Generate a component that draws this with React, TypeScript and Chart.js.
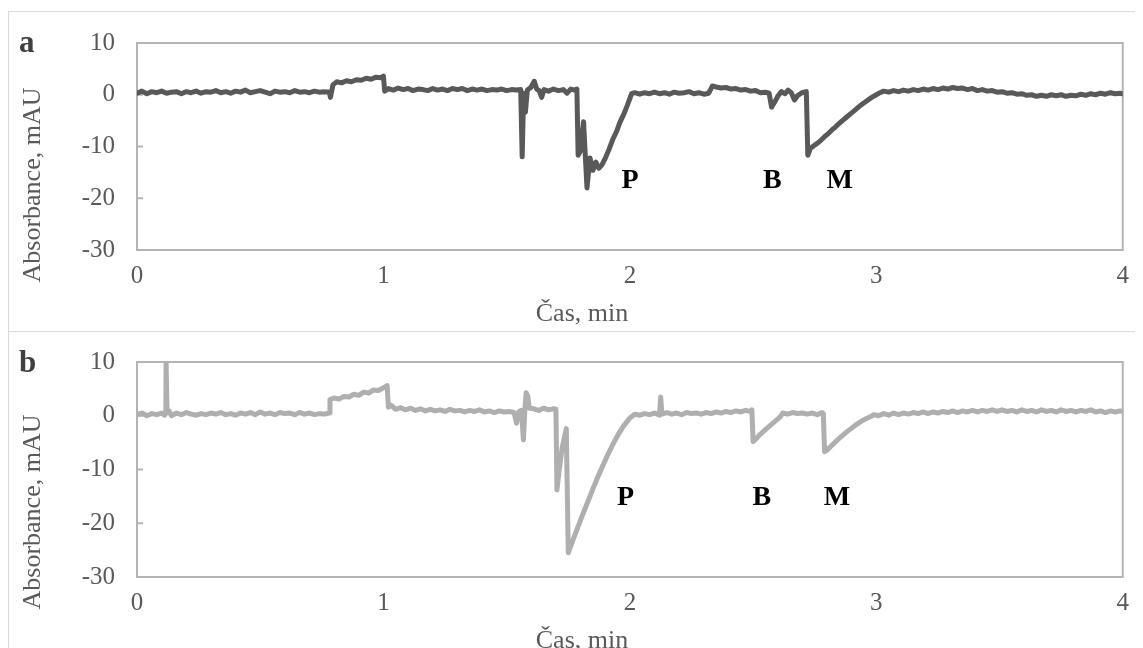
import { useEffect, useRef } from "react";
import { Chart, registerables } from "chart.js";

Chart.register(...registerables);

// ---------- data (time in min, absorbance in mAU) ----------
const traceA: [number, number][] = [
  [0.00,0.3],[0.02,0.7],[0.04,0.2],[0.06,0.6],[0.08,0.4],[0.10,0.7],[0.12,0.3],[0.14,0.5],[0.16,0.6],[0.18,0.2],
  [0.20,0.6],[0.22,0.4],[0.24,0.7],[0.26,0.3],[0.28,0.6],[0.30,0.5],[0.32,0.8],[0.34,0.4],[0.36,0.6],[0.38,0.3],
  [0.40,0.7],[0.42,0.5],[0.44,0.9],[0.46,0.4],[0.48,0.6],[0.50,0.8],[0.52,0.5],[0.54,0.2],[0.56,0.7],[0.58,0.5],
  [0.60,0.6],[0.62,0.4],[0.64,0.8],[0.66,0.5],[0.68,0.6],[0.70,0.4],[0.72,0.7],[0.74,0.5],[0.76,0.6],[0.78,0.5],
  [0.785,-0.5],[0.795,1.9],[0.81,2.5],[0.83,2.3],[0.85,2.7],[0.87,2.5],[0.89,2.9],[0.91,2.8],[0.93,3.2],[0.95,3.0],
  [0.97,3.4],[0.99,3.3],[1.00,3.6],[1.005,0.7],[1.02,1.2],[1.04,0.9],[1.06,1.3],[1.08,1.0],[1.10,1.2],[1.12,0.8],
  [1.14,1.1],[1.16,1.0],[1.18,0.8],[1.20,1.2],[1.22,0.9],[1.24,1.1],[1.26,0.8],[1.28,1.2],[1.30,1.0],[1.32,1.2],
  [1.34,0.8],[1.36,1.1],[1.38,0.9],[1.40,1.1],[1.42,0.8],[1.44,1.0],[1.46,0.9],[1.48,1.1],[1.50,0.8],[1.52,1.0],
  [1.54,0.9],[1.557,1.0],[1.563,-12.0],[1.569,0.3],[1.576,-3.4],[1.584,0.9],[1.598,1.4],[1.612,2.6],[1.622,1.1],[1.632,0.8],
  [1.642,-0.5],[1.652,1.0],[1.67,0.7],[1.69,1.1],[1.71,0.8],[1.73,1.0],[1.745,0.3],[1.76,1.1],[1.775,0.9],[1.785,1.1],
  [1.79,-11.7],[1.798,-11.0],[1.812,-5.2],[1.826,-18.0],[1.838,-12.2],[1.85,-14.6],[1.862,-13.0],[1.874,-14.2],[1.886,-13.6],[1.90,-12.3],
  [1.915,-10.6],[1.93,-8.7],[1.945,-7.2],[1.96,-5.3],[1.975,-3.8],[1.99,-2.0],[2.007,0.2],[2.02,0.4],[2.04,0.1],[2.06,0.4],
  [2.08,0.2],[2.10,0.5],[2.12,0.2],[2.14,0.4],[2.16,0.1],[2.18,0.5],[2.20,0.3],[2.22,0.4],[2.24,0.6],[2.26,0.2],
  [2.28,0.4],[2.30,0.1],[2.32,0.3],[2.335,1.7],[2.35,1.5],[2.37,1.3],[2.39,1.4],[2.41,1.1],[2.43,1.2],[2.45,0.9],
  [2.47,1.0],[2.49,0.7],[2.51,0.8],[2.53,0.4],[2.55,0.5],[2.565,0.3],[2.575,-2.4],[2.59,-1.2],[2.60,-0.3],[2.615,0.6],
  [2.63,0.2],[2.642,0.9],[2.655,0.4],[2.668,-1.0],[2.68,-0.2],[2.695,0.3],[2.706,0.5],[2.716,0.6],[2.722,-11.7],[2.732,-10.4],
  [2.745,-9.9],[2.76,-9.4],[2.775,-8.8],[2.79,-8.1],[2.805,-7.5],[2.82,-6.8],[2.835,-6.2],[2.85,-5.5],[2.865,-4.9],[2.88,-4.3],
  [2.895,-3.7],[2.91,-3.1],[2.925,-2.5],[2.94,-1.9],[2.955,-1.4],[2.97,-0.9],[2.985,-0.4],[3.00,0.0],[3.015,0.4],[3.03,0.7],
  [3.05,0.5],[3.07,0.8],[3.09,0.6],[3.11,0.9],[3.13,0.7],[3.15,1.0],[3.17,0.8],[3.19,1.1],[3.21,0.9],[3.23,1.2],
  [3.25,1.0],[3.27,1.3],[3.29,1.1],[3.31,1.4],[3.33,1.2],[3.35,1.3],[3.37,1.0],[3.39,1.2],[3.41,0.8],[3.43,1.0],
  [3.45,0.7],[3.47,0.8],[3.49,0.5],[3.51,0.6],[3.53,0.3],[3.55,0.4],[3.57,0.1],[3.59,0.2],[3.61,-0.1],[3.63,0.0],
  [3.65,-0.3],[3.67,-0.1],[3.69,-0.3],[3.71,0.0],[3.73,-0.2],[3.75,0.0],[3.77,-0.3],[3.79,-0.1],[3.81,-0.2],[3.83,0.1],
  [3.85,-0.1],[3.87,0.2],[3.89,0.0],[3.91,0.3],[3.93,0.1],[3.95,0.4],[3.97,0.2],[3.99,0.3],[4.00,0.2],
];

const traceB: [number, number][] = [
  [0.00,0.2],[0.02,0.5],[0.04,0.0],[0.06,0.4],[0.08,0.2],[0.10,0.5],[0.112,0.1],[0.117,0.4],[0.118,10.0],[0.121,10.0],
  [0.122,0.6],[0.13,0.9],[0.14,0.0],[0.16,0.5],[0.18,0.2],[0.20,0.6],[0.22,0.3],[0.24,0.1],[0.26,0.4],[0.28,0.2],
  [0.30,0.5],[0.32,0.3],[0.34,0.6],[0.36,0.2],[0.38,0.4],[0.40,0.1],[0.42,0.5],[0.44,0.3],[0.46,0.6],[0.48,0.2],
  [0.50,0.7],[0.52,0.3],[0.54,0.5],[0.56,0.2],[0.58,0.6],[0.60,0.4],[0.62,0.5],[0.64,0.2],[0.66,0.6],[0.68,0.3],
  [0.70,0.5],[0.72,0.2],[0.74,0.4],[0.76,0.3],[0.78,0.5],[0.783,3.0],[0.80,3.3],[0.82,3.1],[0.84,3.6],[0.86,3.5],
  [0.88,4.0],[0.90,3.8],[0.92,4.4],[0.94,4.2],[0.96,4.8],[0.98,4.7],[1.00,5.2],[1.015,5.6],[1.02,1.6],[1.03,2.0],
  [1.05,1.2],[1.07,1.5],[1.09,1.1],[1.11,1.4],[1.13,1.0],[1.15,1.3],[1.17,0.9],[1.19,1.2],[1.21,0.9],[1.23,1.1],
  [1.25,0.8],[1.27,1.2],[1.29,0.9],[1.31,1.0],[1.33,0.7],[1.35,1.0],[1.37,0.8],[1.39,1.1],[1.41,0.7],[1.43,0.9],
  [1.45,0.6],[1.47,0.9],[1.49,0.7],[1.51,0.8],[1.53,0.6],[1.54,-1.4],[1.55,0.8],[1.56,1.0],[1.568,-4.5],[1.574,1.2],
  [1.579,4.3],[1.586,3.6],[1.592,1.4],[1.61,1.3],[1.63,1.0],[1.65,1.4],[1.67,1.1],[1.69,1.3],[1.70,1.2],[1.704,-13.8],
  [1.712,-10.5],[1.725,-6.0],[1.742,-2.4],[1.750,-25.5],[1.77,-23.0],[1.79,-20.6],[1.81,-18.2],[1.83,-15.9],[1.85,-13.6],[1.87,-11.4],
  [1.89,-9.3],[1.91,-7.3],[1.93,-5.4],[1.95,-3.7],[1.97,-2.2],[1.99,-1.0],[2.00,-0.4],[2.02,0.3],[2.04,0.1],[2.06,0.4],
  [2.08,0.2],[2.10,0.5],[2.12,0.1],[2.125,3.5],[2.13,0.3],[2.15,0.6],[2.17,0.3],[2.19,0.5],[2.21,0.2],[2.23,0.6],
  [2.25,0.4],[2.27,0.5],[2.29,0.3],[2.31,0.6],[2.33,0.4],[2.35,0.7],[2.37,0.5],[2.39,0.8],[2.41,0.6],[2.43,0.9],
  [2.45,0.7],[2.47,1.0],[2.49,0.8],[2.495,1.1],[2.50,-4.8],[2.51,-4.4],[2.53,-3.4],[2.55,-2.6],[2.57,-1.8],[2.59,-1.0],
  [2.61,-0.2],[2.62,0.5],[2.64,0.3],[2.66,0.6],[2.68,0.4],[2.70,0.5],[2.72,0.3],[2.74,0.5],[2.76,0.2],[2.78,0.6],
  [2.785,0.4],[2.79,-6.7],[2.80,-6.4],[2.82,-5.5],[2.84,-4.6],[2.86,-3.8],[2.88,-3.0],[2.90,-2.3],[2.92,-1.6],[2.94,-1.0],
  [2.96,-0.5],[2.98,-0.1],[2.99,0.2],[3.01,0.0],[3.03,0.4],[3.05,0.1],[3.07,0.5],[3.09,0.2],[3.11,0.5],[3.13,0.3],
  [3.15,0.6],[3.17,0.4],[3.19,0.7],[3.21,0.4],[3.23,0.7],[3.25,0.5],[3.27,0.8],[3.29,0.6],[3.31,0.9],[3.33,0.6],
  [3.35,0.9],[3.37,0.7],[3.39,1.0],[3.41,0.7],[3.43,1.0],[3.45,0.8],[3.47,1.1],[3.49,0.8],[3.51,1.1],[3.53,0.8],
  [3.55,1.0],[3.57,0.7],[3.59,1.1],[3.61,0.8],[3.63,1.0],[3.65,0.7],[3.67,1.1],[3.69,0.8],[3.71,1.0],[3.73,0.7],
  [3.75,1.1],[3.77,0.8],[3.79,1.0],[3.81,0.7],[3.83,1.0],[3.85,0.8],[3.87,1.1],[3.89,0.7],[3.91,0.9],[3.93,0.6],
  [3.95,0.9],[3.97,0.7],[3.99,0.9],[4.00,0.8],
];

const peakLabels = ["P", "B", "M"];
const peakTimesA = [1.966, 2.54, 2.798];
const peakTimesB = [1.948, 2.498, 2.787];
const peakLevelA = -18.1;
const peakLevelB = -16.6;

const X_MIN = 0, X_MAX = 4, X_STEP = 1;
const Y_MIN = -30, Y_MAX = 10, Y_STEP = 10;
const X_TITLE = "Čas, min";
const Y_TITLE = "Absorbance, mAU";

// ---------- styles ----------
const SERIF = '"Liberation Serif", "Times New Roman", serif';
const TEXT_GRAY = "#595959";
const FRAME_GRAY = "#b4b4b4";

type PanelProps = {
  letter: string;
  trace: [number, number][];
  color: string;
  peakTimes: number[];
  peakLevel: number;
  width: number;
  height: number;
  xAxisHeight: number;
  top: number;
};

function Panel(props: PanelProps) {
  const ref = useRef<HTMLCanvasElement | null>(null);
  useEffect(() => {
    const canvas = ref.current;
    if (!canvas) return;
    const decor = {
      id: "decor",
      beforeDatasetsDraw(chart: any) {
        const { ctx, chartArea: a, scales } = chart;
        ctx.save();
        ctx.strokeStyle = FRAME_GRAY;
        ctx.lineWidth = 2;
        ctx.strokeRect(a.left, a.top, a.right - a.left, a.bottom - a.top);
        scales.y.ticks.forEach((t: any) => {
          const py = scales.y.getPixelForValue(t.value);
          ctx.beginPath();
          ctx.moveTo(a.left, py);
          ctx.lineTo(a.left + 6, py);
          ctx.stroke();
        });
        ctx.restore();
      },
      afterDraw(chart: any) {
        const { ctx, chartArea: a, scales } = chart;
        ctx.save();
        // y axis title
        ctx.fillStyle = TEXT_GRAY;
        ctx.font = `26px ${SERIF}`;
        ctx.textAlign = "center";
        ctx.textBaseline = "middle";
        ctx.translate(24, a.bottom - 65);
        ctx.rotate(-Math.PI / 2);
        ctx.fillText(Y_TITLE, 0, 0);
        ctx.setTransform(1, 0, 0, 1, 0, 0);
        // x axis title
        ctx.textBaseline = "alphabetic";
        ctx.fillText(X_TITLE, a.left + 445, a.bottom + 71);
        // panel letter
        ctx.fillStyle = "#404040";
        ctx.font = `bold 31px ${SERIF}`;
        ctx.textAlign = "left";
        ctx.fillText(props.letter, 10, 40);
        // peak labels
        ctx.fillStyle = "#000000";
        ctx.font = `bold 28px ${SERIF}`;
        peakLabels.forEach((lab, i) => {
          ctx.fillText(
            lab,
            scales.x.getPixelForValue(props.peakTimes[i]),
            scales.y.getPixelForValue(props.peakLevel)
          );
        });
        ctx.restore();
      },
    };
    const chart = new Chart(canvas, {
      type: "line",
      data: {
        datasets: [
          {
            data: props.trace.map(([x, y]) => ({ x, y })),
            borderColor: props.color,
            borderWidth: 5,
            pointRadius: 0,
            tension: 0,
            fill: false,
            borderJoinStyle: "round",
            borderCapStyle: "round",
          },
        ],
      },
      options: {
        animation: false,
        responsive: false,
        devicePixelRatio: 1,
        events: [],
        layout: { padding: { left: 0, top: props.top, right: 17, bottom: 0 } },
        plugins: { legend: { display: false }, tooltip: { enabled: false }, title: { display: false } },
        scales: {
          x: {
            type: "linear",
            min: X_MIN,
            max: X_MAX,
            grid: { display: false, drawTicks: false },
            border: { display: false },
            ticks: {
              stepSize: X_STEP,
              color: TEXT_GRAY,
              font: { family: SERIF, size: 25 },
              padding: 11,
              maxRotation: 0,
            },
            afterFit: (s: any) => {
              s.height = props.xAxisHeight;
            },
          },
          y: {
            type: "linear",
            min: Y_MIN,
            max: Y_MAX,
            grid: { display: false, drawTicks: false },
            border: { display: false },
            ticks: {
              stepSize: Y_STEP,
              color: TEXT_GRAY,
              font: { family: SERIF, size: 25, lineHeight: 0.5 },
              padding: 22,
            },
            afterFit: (s: any) => {
              s.width = 128;
            },
          },
        },
      },
      plugins: [decor],
    } as any);
    return () => chart.destroy();
  }, []);
  return <canvas ref={ref} width={props.width} height={props.height} style={{ display: "block" }} />;
}

export default function App() {
  useEffect(() => {
    document.documentElement.style.overflow = "hidden";
    document.body.style.overflow = "hidden";
  }, []);
  return (
    <div style={{ position: "relative", width: 1133, height: 640, overflow: "hidden" }}>
      <div
        style={{
          position: "absolute",
          left: 0,
          top: 3,
          width: 1133,
          height: 321,
          border: "1px solid #d9d9d9",
          boxSizing: "border-box",
          overflow: "hidden",
        }}
      >
        <Panel
          letter="a"
          trace={traceA}
          color="#595959"
          peakTimes={peakTimesA}
          peakLevel={peakLevelA}
          width={1131}
          height={316}
          xAxisHeight={78}
          top={31}
        />
      </div>
      <div
        style={{
          position: "absolute",
          left: 0,
          top: 323,
          width: 1133,
          height: 330,
          border: "1px solid #d9d9d9",
          borderBottom: "none",
          boxSizing: "border-box",
          overflow: "hidden",
        }}
      >
        <Panel
          letter="b"
          trace={traceB}
          color="#afafaf"
          peakTimes={peakTimesB}
          peakLevel={peakLevelB}
          width={1131}
          height={316}
          xAxisHeight={71}
          top={30}
        />
      </div>
    </div>
  );
}
